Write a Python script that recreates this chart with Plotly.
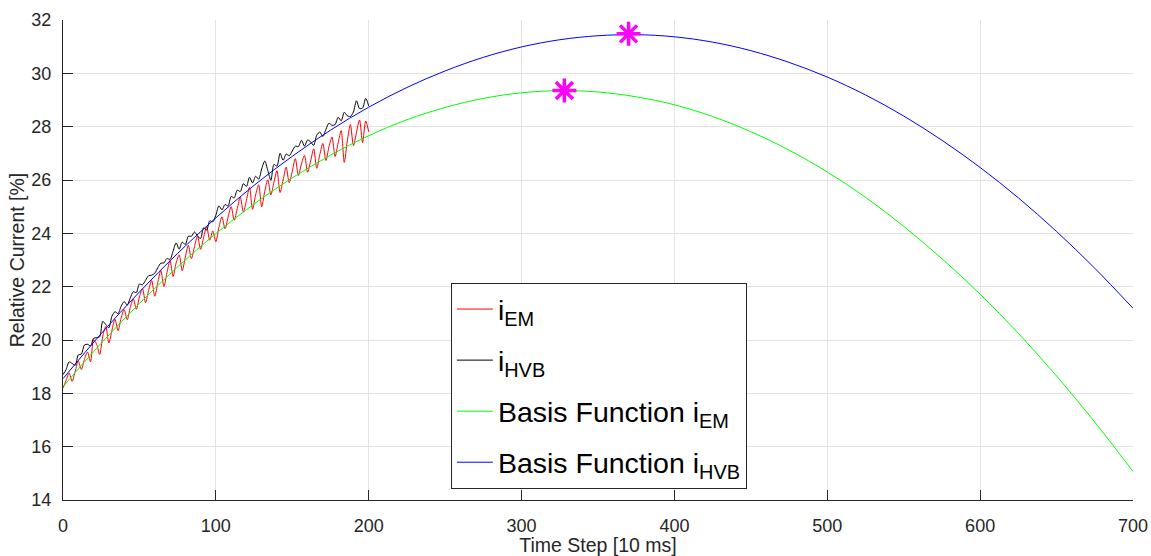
import plotly.graph_objects as go

# ---------------- data ----------------
step_x = list(range(0, 201, 2))

i_em = [18.20, 18.48, 18.76, 18.45, 18.83, 19.21, 18.89, 19.27, 19.55, 19.18,
        20.01, 19.84, 19.46, 20.14, 20.51, 19.89, 20.36, 20.78, 20.35, 20.82,
        21.14, 20.76, 21.22, 21.54, 21.15, 21.62, 21.93, 21.40, 21.86, 22.23,
        21.64, 22.15, 22.61, 22.01, 22.52, 22.98, 22.38, 22.89, 23.19, 22.60,
        23.10, 23.55, 23.05, 23.50, 23.90, 23.40, 23.85, 24.25, 23.74, 24.09,
        23.69, 24.23, 24.62, 24.17, 24.61, 25.00, 24.49, 24.93, 25.36, 24.80,
        25.24, 25.72, 24.90, 25.44, 25.82, 25.00, 25.58, 26.01, 25.44, 25.92,
        26.35, 25.53, 26.00, 26.48, 25.90, 26.33, 26.80, 26.17, 26.60, 26.92,
        26.29, 26.71, 27.17, 26.44, 26.95, 27.37, 26.73, 27.25, 27.61, 26.88,
        27.39, 27.85, 26.66, 27.47, 28.08, 27.29, 27.79, 28.25, 27.40, 28.21,
        27.81]

i_hvb = [18.70, 18.89, 19.18, 19.12, 19.05, 19.44, 19.47, 19.81, 19.84, 19.78,
         20.06, 20.09, 20.12, 20.70, 20.58, 20.46, 20.89, 21.06, 20.99, 21.26,
         21.44, 21.31, 21.58, 21.81, 21.78, 22.10, 22.07, 22.24, 22.41, 22.43,
         22.50, 22.71, 22.88, 22.89, 23.06, 23.02, 23.33, 23.64, 23.41, 23.67,
         23.58, 23.89, 23.89, 24.05, 23.90, 23.81, 24.21, 24.12, 24.47, 24.43,
         24.68, 25.03, 24.88, 25.08, 25.03, 25.38, 25.33, 25.62, 25.57, 25.86,
         25.76, 26.10, 25.89, 26.14, 26.03, 26.42, 26.71, 26.35, 25.99, 26.58,
         26.52, 27.00, 26.74, 26.97, 26.91, 27.09, 27.27, 27.25, 27.49, 27.27,
         27.50, 27.43, 27.30, 27.68, 27.80, 27.63, 27.90, 28.13, 28.05, 28.08,
         28.35, 28.22, 28.54, 28.41, 28.38, 28.55, 28.97, 28.68, 28.70, 29.06,
         28.78]

basis_x = list(range(0, 701, 25))
basis_em = [18.25, 19.88, 21.37, 22.74, 23.99, 25.10, 26.08, 26.93, 27.66, 28.26,
            28.72, 29.06, 29.27, 29.35, 29.30, 29.12, 28.82, 28.38, 27.81, 27.12,
            26.30, 25.35, 24.26, 23.05, 21.72, 20.25, 18.65, 16.92, 15.07]
basis_hvb = [18.55, 20.24, 21.80, 23.25, 24.58, 25.80, 26.89, 27.87, 28.73, 29.47,
             30.09, 30.60, 30.99, 31.26, 31.41, 31.45, 31.37, 31.17, 30.85, 30.41,
             29.86, 29.19, 28.40, 27.49, 26.47, 25.33, 24.07, 22.69, 21.19]

peak_x = [370, 328]
peak_y = [31.48, 29.36]

x_ticks = [0, 100, 200, 300, 400, 500, 600, 700]
y_ticks = [14, 16, 18, 20, 22, 24, 26, 28, 30, 32]

# ---------------- figure ----------------
FONT = "Liberation Sans, Arial, Helvetica, sans-serif"
AX = "#262626"
GRID = "#e3e3e3"

fig = go.Figure()
fig.add_trace(go.Scatter(x=step_x, y=i_em, mode="lines", name="i<sub>EM</sub>",
                         legendgroup="a",
                         line=dict(color="#ff0000", width=1, shape="spline", smoothing=0.8)))
fig.add_trace(go.Scatter(x=step_x, y=i_hvb, mode="lines", name="i<sub>HVB</sub>",
                         legendgroup="b",
                         line=dict(color="#000000", width=1, shape="spline", smoothing=0.8)))
fig.add_trace(go.Scatter(x=basis_x, y=basis_em, mode="lines", name="Basis Function i<sub>EM</sub>",
                         legendgroup="c", line=dict(color="#00ff00", width=1, shape="spline")))
fig.add_trace(go.Scatter(x=basis_x, y=basis_hvb, mode="lines", name="Basis Function i<sub>HVB</sub>",
                         legendgroup="d", line=dict(color="#0000ff", width=1, shape="spline")))
fig.add_trace(go.Scatter(x=peak_x, y=peak_y, mode="markers", showlegend=False,
                         marker=dict(symbol="asterisk-open", size=20, color="#ff00ff",
                                     line=dict(color="#ff00ff", width=3.5))))

fig.update_layout(
    width=1151, height=556,
    margin=dict(l=63, r=18, t=20, b=56, autoexpand=False),
    paper_bgcolor="white", plot_bgcolor="white",
    font=dict(family=FONT, color=AX, size=18),
    showlegend=True,
    legend=dict(x=0.3625, y=0.452, xanchor="left", yanchor="top",
                bgcolor="white", bordercolor=AX, borderwidth=1,
                font=dict(family=FONT, size=28.5, color="#000000"),
                tracegroupgap=11, itemwidth=36),
)
fig.update_xaxes(range=[0, 700], tickvals=x_ticks, showgrid=True, gridcolor=GRID,
                 zeroline=False, showline=True, linecolor=AX, linewidth=1, mirror=False,
                 ticks="inside", ticklen=10, tickcolor=AX, ticklabelstandoff=9,
                 automargin=False, tickfont=dict(size=18),
                 title=dict(text="Time Step [10 ms]", font=dict(size=19.5), standoff=8))
fig.update_yaxes(range=[14, 32], tickvals=y_ticks, showgrid=True, gridcolor=GRID,
                 zeroline=False, showline=True, linecolor=AX, linewidth=1, mirror=False,
                 ticks="inside", ticklen=10, tickcolor=AX, ticklabelstandoff=7,
                 automargin=False, tickfont=dict(size=18),
                 title=dict(text="Relative Current [%]", font=dict(size=19.5), standoff=1))

fig.write_html("out.html")
